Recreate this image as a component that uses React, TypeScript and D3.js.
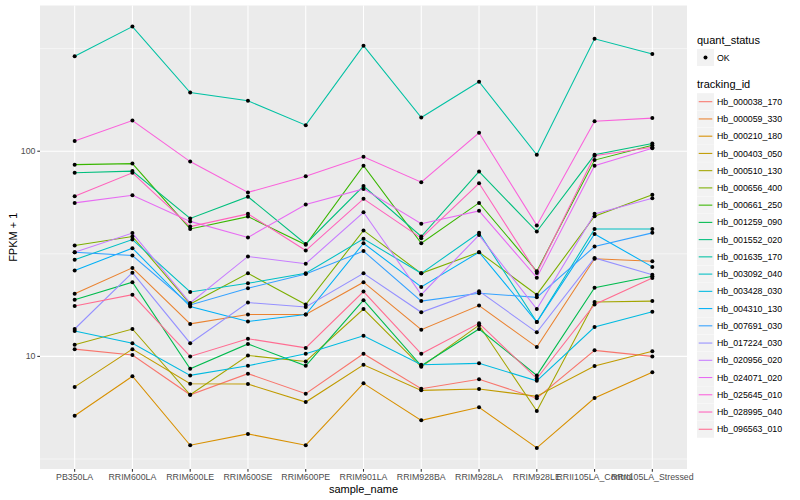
import React from 'react';
import * as d3 from 'd3';

const samples = [
  'PB350LA', 'RRIM600LA', 'RRIM600LE', 'RRIM600SE', 'RRIM600PE', 'RRIM901LA',
  'RRIM928BA', 'RRIM928LA', 'RRIM928LE', 'RRII105LA_Control', 'RRII105LA_Stressed',
];

const trackingIds = [
  'Hb_000038_170', 'Hb_000059_330', 'Hb_000210_180', 'Hb_000403_050', 'Hb_000510_130',
  'Hb_000656_400', 'Hb_000661_250', 'Hb_001259_090', 'Hb_001552_020', 'Hb_001635_170',
  'Hb_003092_040', 'Hb_003428_030', 'Hb_004310_130', 'Hb_007691_030', 'Hb_017224_030',
  'Hb_020956_020', 'Hb_024071_020', 'Hb_025645_010', 'Hb_028995_040', 'Hb_096563_010',
];

// FPKM + 1, one value per sample (same order as samples)
const hb_000038_170 = [10.85, 10.15, 6.5, 8.24, 6.58, 10.3, 6.96, 7.73, 6.26, 10.7, 10.0];
const hb_000059_330 = [20.2, 27.0, 14.4, 16.0, 16.0, 23.0, 13.5, 17.7, 11.1, 29.9, 29.1];
const hb_000210_180 = [5.14, 8.0, 3.69, 4.19, 3.69, 7.39, 4.88, 5.65, 3.58, 6.27, 8.36];
const hb_000403_050 = [7.1, 10.85, 7.36, 7.33, 5.99, 9.1, 6.83, 6.93, 6.4, 8.97, 10.6];
const hb_000510_130 = [11.4, 13.6, 6.5, 10.1, 9.45, 17.0, 8.9, 14.2, 5.42, 18.4, 18.6];
const hb_000656_400 = [34.7, 38.4, 18.0, 25.4, 17.9, 41.1, 25.4, 32.2, 20.0, 48.2, 61.3];
const hb_000661_250 = [86, 87, 41.8, 48, 35.0, 85, 35.6, 56, 26, 90.5, 107];
const hb_001259_090 = [18.9, 23.0, 8.7, 11.5, 9.0, 18.8, 9.0, 13.6, 8.08, 21.6, 24.6];
const hb_001552_020 = [78.5, 80, 47, 60, 35.3, 67.6, 38.4, 79.6, 40.6, 96, 109];
const hb_001635_170 = [290, 405, 193, 176, 134, 327, 146, 218, 96, 353, 298];
const hb_003092_040 = [29.6, 37.1, 20.6, 22.7, 25.4, 37.4, 25.4, 40.0, 14.7, 41.8, 41.8];
const hb_003428_030 = [13.3, 11.6, 8.08, 9.0, 10.3, 12.6, 9.1, 9.25, 7.6, 13.9, 16.5];
const hb_004310_130 = [26.2, 33.7, 17.5, 14.8, 16.0, 35.6, 21.8, 32.2, 14.7, 39.5, 27.3];
const hb_007691_030 = [32.2, 31.0, 17.8, 21.5, 25.2, 32.6, 18.6, 20.3, 19.4, 34.3, 40.0];
const hb_017224_030 = [13.6, 25.6, 11.6, 18.3, 17.4, 25.4, 16.4, 20.8, 13.1, 30.2, 25.0];
const hb_020956_020 = [32.2, 39.9, 18.2, 30.7, 28.3, 50.4, 20.0, 39.0, 17.0, 49.5, 59.0];
const hb_024071_020 = [56, 61, 45.5, 38, 55, 65.5, 44.3, 51.2, 24.2, 85, 103.4];
const hb_025645_010 = [112, 141, 89, 63, 75.5, 94, 70.6, 123, 43.5, 140, 145];
const hb_028995_040 = [60.4, 78.5, 42.9, 49.5, 32.8, 58.6, 37.7, 69.8, 25.5, 95, 104.6];
const hb_096563_010 = [17.6, 20.0, 10.0, 12.2, 11.0, 20.7, 10.3, 14.5, 7.8, 17.9, 24.1];

const seriesValues = [
  hb_000038_170, hb_000059_330, hb_000210_180, hb_000403_050, hb_000510_130,
  hb_000656_400, hb_000661_250, hb_001259_090, hb_001552_020, hb_001635_170,
  hb_003092_040, hb_003428_030, hb_004310_130, hb_007691_030, hb_017224_030,
  hb_020956_020, hb_024071_020, hb_025645_010, hb_028995_040, hb_096563_010,
];

const yTicks = [10, 100];
const yMinor = [10 ** 0.5, 10 ** 1.5, 10 ** 2.5];

// ggplot default hue palette, 20 levels
const colors = [
  '#F8766D', '#EA8331', '#D89000', '#C09B00', '#A3A500', '#7CAE00', '#39B600',
  '#00BB4E', '#00BF7D', '#00C1A3', '#00BFC4', '#00BAE0', '#00B0F6', '#35A2FF',
  '#9590FF', '#C77CFF', '#E76BF3', '#FA62DB', '#FF62BC', '#FF6C91',
];

const W = 800, H = 500;
const panel = { left: 40, right: 687, top: 5.5, bottom: 469 };
const font = '"Liberation Sans", Arial, sans-serif';

export default function App() {
  const x = d3.scalePoint<string>()
    .domain(samples)
    .range([panel.left, panel.right])
    .padding(0.6);

  const all = seriesValues.flat();
  const lo = Math.log10(d3.min(all)!), hi = Math.log10(d3.max(all)!);
  const pad = (hi - lo) * 0.05;
  const y = d3.scaleLog()
    .domain([10 ** (lo - pad), 10 ** (hi + pad)])
    .range([panel.bottom, panel.top]);

  const line = d3.line<number>()
    .x((_, i) => x(samples[i])!)
    .y(d => y(d));

  const keyTop = 93.2, keyStep = 17.24;

  return (
    <svg width={W} height={H} style={{ position: 'absolute', left: 0, top: 0, background: '#fff' }}
      fontFamily={font}>
      <rect x={0} y={0} width={W} height={H} fill="#fff" />
      {/* panel */}
      <rect x={panel.left} y={panel.top} width={panel.right - panel.left}
        height={panel.bottom - panel.top} fill="#EBEBEB" />
      {yMinor.map(v => (
        <line key={'m' + v} x1={panel.left} x2={panel.right} y1={y(v)} y2={y(v)}
          stroke="#fff" strokeWidth={0.53} />
      ))}
      {yTicks.map(v => (
        <line key={'g' + v} x1={panel.left} x2={panel.right} y1={y(v)} y2={y(v)}
          stroke="#fff" strokeWidth={1.07} />
      ))}
      {samples.map(s => (
        <line key={'gx' + s} x1={x(s)} x2={x(s)} y1={panel.top} y2={panel.bottom}
          stroke="#fff" strokeWidth={1.07} />
      ))}

      {/* lines */}
      {seriesValues.map((vals, i) => (
        <path key={trackingIds[i]} d={line(vals)!} fill="none" stroke={colors[i]} strokeWidth={1.07} />
      ))}
      {/* points */}
      {seriesValues.map((vals, i) =>
        vals.map((v, j) => (
          <circle key={trackingIds[i] + j} cx={x(samples[j])} cy={y(v)} r={2} fill="#000" />
        ))
      )}

      {/* y axis */}
      {yTicks.map(v => (
        <g key={'yt' + v}>
          <line x1={panel.left - 2.7} x2={panel.left} y1={y(v)} y2={y(v)} stroke="#333" strokeWidth={1.07} />
          <text x={panel.left - 4.5} y={y(v)} dy="0.35em" textAnchor="end" fontSize={8.8} fill="#4D4D4D">{v}</text>
        </g>
      ))}
      <text transform={`translate(13,${(panel.top + panel.bottom) / 2}) rotate(-90)`} textAnchor="middle"
        dy="0.35em" fontSize={11} fill="#000">FPKM + 1</text>

      {/* x axis */}
      {samples.map(s => (
        <g key={'xt' + s}>
          <line x1={x(s)} x2={x(s)} y1={panel.bottom} y2={panel.bottom + 2.7} stroke="#333" strokeWidth={1.07} />
          <text x={x(s)} y={panel.bottom + 11} textAnchor="middle" fontSize={8.8} fill="#4D4D4D">{s}</text>
        </g>
      ))}
      <text x={(panel.left + panel.right) / 2} y={panel.bottom + 24} textAnchor="middle" fontSize={11} fill="#000">
        sample_name
      </text>

      {/* legend: quant_status */}
      <text x={697} y={44} fontSize={11}>quant_status</text>
      <rect x={697} y={49} width={17} height={17} fill="#F2F2F2" />
      <circle cx={705.5} cy={57.5} r={2} fill="#000" />
      <text x={717} y={57.5} dy="0.35em" fontSize={8.8}>OK</text>

      {/* legend: tracking_id */}
      <text x={697} y={88} fontSize={11}>tracking_id</text>
      {trackingIds.map((id, i) => {
        const ty = keyTop + i * keyStep;
        return (
          <g key={'lg' + id}>
            <rect x={697} y={ty} width={17} height={17} fill="#F2F2F2" />
            <line x1={698.7} x2={712.3} y1={ty + 8.5} y2={ty + 8.5} stroke={colors[i]} strokeWidth={1.07} />
            <text x={717} y={ty + 8.5} dy="0.35em" fontSize={8.8}>{id}</text>
          </g>
        );
      })}
    </svg>
  );
}
